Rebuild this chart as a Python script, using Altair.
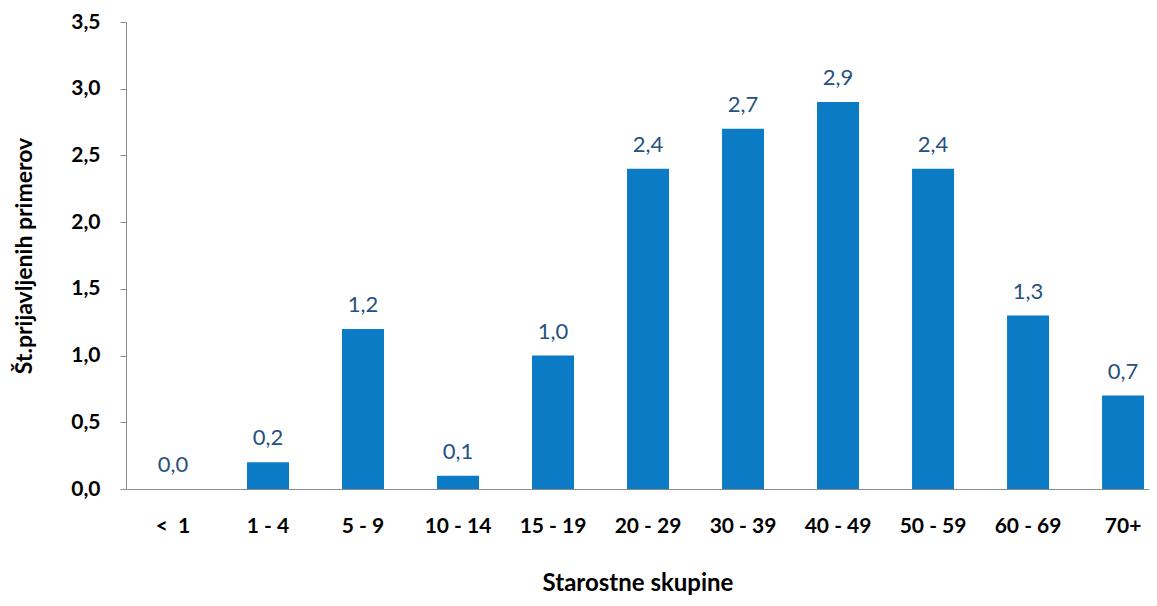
import altair as alt
import pandas as pd

categories = ["<\u00a0 1", "1 - 4", "5 - 9", "10 - 14", "15 - 19", "20 - 29",
              "30 - 39", "40 - 49", "50 - 59", "60 - 69", "70+"]
values = [0.0, 0.2, 1.2, 0.1, 1.0, 2.4, 2.7, 2.9, 2.4, 1.3, 0.7]
labels = [f"{v:.1f}".replace(".", ",") for v in values]

df = pd.DataFrame({"cat": categories, "val": values, "lab": labels})

FONT = "Lato"

x = alt.X("cat:N", sort=categories,
          scale=alt.Scale(paddingInner=0.558, paddingOuter=0.163, align=0.84),
          axis=alt.Axis(title="Starostne skupine", labelAngle=0, ticks=False,
                        domainColor="#8c8c8c", labelFont=FONT, labelFontSize=21,
                        labelFontWeight="bold", labelColor="#000000", labelPadding=26,
                        titleFont=FONT, titleFontSize=24, titleFontWeight="bold",
                        titleColor="#000000", titlePadding=35))
y = alt.Y("val:Q", scale=alt.Scale(domain=[0, 3.5], nice=False),
          axis=alt.Axis(title="Št.prijavljenih primerov", values=[0, 0.5, 1, 1.5, 2, 2.5, 3, 3.5],
                        labelExpr="replace(format(datum.value, '.1f'), '.', ',')",
                        grid=False, tickSize=6, tickColor="#8c8c8c", domainColor="#8c8c8c",
                        labelFont=FONT, labelFontSize=21, labelFontWeight="bold",
                        labelColor="#000000", labelPadding=20,
                        titleFont=FONT, titleFontSize=23, titleFontWeight="bold",
                        titleColor="#000000", titlePadding=34))

bars = alt.Chart(df).mark_bar(color="#0a7bc4").encode(x=x, y=y)
text = alt.Chart(df).mark_text(baseline="bottom", dy=-12, font=FONT, fontSize=22,
                               color="#26527f").encode(x=x, y="val:Q", text="lab:N")

chart = (bars + text).properties(
    width=1023, height=467,
    autosize=alt.AutoSizeParams(type="none"),
    padding={"left": 118, "top": 14, "right": 0, "bottom": 114},
).configure_view(stroke=None)

chart.save("out.html", embed_options={"renderer": "svg", "actions": False})
